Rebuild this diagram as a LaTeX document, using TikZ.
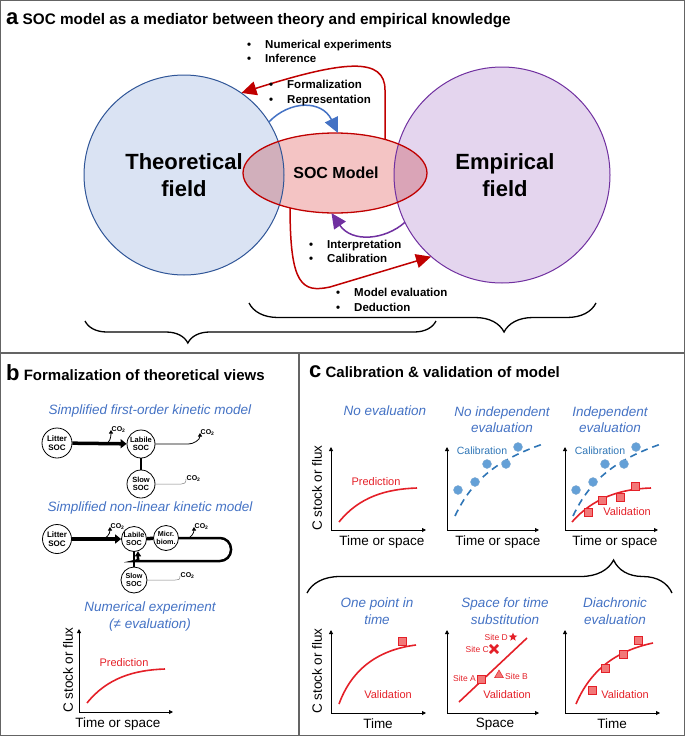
\documentclass[tikz,border=0pt]{standalone}
\usepackage{fontspec}
\setmainfont{Liberation Sans}
\usetikzlibrary{arrows.meta,shapes.geometric,shapes.misc,decorations.pathreplacing}

\definecolor{theofill}{RGB}{218,227,243}
\definecolor{theoline}{RGB}{47,85,151}
\definecolor{empfill}{RGB}{228,213,238}
\definecolor{empline}{RGB}{112,48,160}
\definecolor{socfill}{RGB}{244,196,196}
\definecolor{socline}{RGB}{192,0,0}
\definecolor{theosoc}{RGB}{209,175,187}
\definecolor{empsoc}{RGB}{218,164,183}
\definecolor{formblue}{RGB}{68,114,196}
\definecolor{headblue}{RGB}{68,114,196}
\definecolor{plotred}{RGB}{228,32,40}
\definecolor{sqred}{RGB}{242,120,120}
\definecolor{calblue}{RGB}{100,160,215}
\definecolor{caldark}{RGB}{46,117,182}
\definecolor{framegray}{RGB}{100,100,100}

\tikzset{
  paneltitle/.style={anchor=west, inner sep=0pt, font=\bfseries\fontsize{15}{16}\selectfont},
  fieldtext/.style={align=center, font=\bfseries\fontsize{22}{27}\selectfont},
  socname/.style={font=\bfseries\fontsize{16}{16}\selectfont},
  bullets/.style={anchor=west, align=left, inner sep=0pt, font=\bfseries\fontsize{11.5}{14.5}\selectfont},
  relarrow/.style={line width=1.5pt, -{Triangle[length=15pt,width=14pt]}},
  heading/.style={align=center, text=headblue, font=\itshape\fontsize{13.5}{16.5}\selectfont},
  pool/.style={circle, draw, line width=0.8pt, inner sep=0pt, align=center, fill=white, font=\bfseries\fontsize{7.5}{8.5}\selectfont},
  flux/.style={line width=3.5pt, -{Triangle[length=6pt,width=9pt]}},
  loopline/.style={line width=2.5pt, rounded corners=11pt, -{Triangle[length=5pt,width=6pt]}},
  co2/.style={anchor=west, inner sep=0.5pt, font=\bfseries\fontsize{7}{7}\selectfont},
  co2line/.style={line width=0.8pt, -{Triangle[length=3.5pt,width=4pt]}},
  co2thin/.style={line width=0.5pt, gray},
  axisarrow/.style={line width=0.9pt, {Triangle[length=4pt,width=4pt]}-{Triangle[length=4pt,width=4pt]}},
  axislabel/.style={font=\fontsize{13.5}{13.5}\selectfont},
  predline/.style={plotred, line width=1.6pt},
  caldash/.style={caldark, line width=1.6pt, dash pattern=on 7pt off 5pt},
  caldot/.style={circle, fill=calblue, draw=caldark!60, line width=0.4pt, minimum size=9pt, inner sep=0pt},
  valsq/.style={rectangle, fill=sqred, draw=plotred, line width=0.5pt, minimum size=8pt, inner sep=0pt},
  redtext/.style={text=plotred, font=\fontsize{11}{11}\selectfont},
  bluetext/.style={text=caldark, font=\fontsize{10.5}{10.5}\selectfont},
  sitetext/.style={text=plotred, inner sep=0pt, font=\fontsize{8.5}{8.5}\selectfont},
}

\begin{document}
\begin{tikzpicture}[x=1pt, y=-1pt]
  \newcommand{\blt}{\makebox[18pt][l]{\textbullet}}
  \useasboundingbox (0,0) rectangle (685,736);
  \draw[framegray, line width=1.3pt] (0.7,0.7) rectangle (684.3,735.3);
  \draw[framegray, line width=1.3pt] (0.7,353) -- (684.3,353) (299,353) -- (299,735.3);

  % a: theory, model and observations
  \node[paneltitle, font=\bfseries\fontsize{15.3}{16}\selectfont] (titlea) at (6,20) {{\fontsize{22}{22}\selectfont a} SOC model as a mediator between theory and empirical knowledge};
  \node[circle, minimum size=200pt, fill=theofill] (theo) at (184,175) {};
  \node[circle, minimum size=216pt, fill=empfill] (emp) at (502,175) {};
  \node[ellipse, minimum width=184pt, minimum height=80pt, fill=socfill] (soc) at (335,173) {};
  \begin{scope}
    \clip (soc.center) ellipse [x radius=92pt, y radius=40pt];
    \fill[theosoc] (theo.center) circle [radius=100pt];
    \fill[empsoc] (emp.center) circle [radius=108pt];
  \end{scope}
  \draw[theoline, line width=1pt] (theo.center) circle [radius=100pt];
  \draw[empline, line width=1pt] (emp.center) circle [radius=108pt];
  \draw[socline, line width=1.3pt] (soc.center) ellipse [x radius=92pt, y radius=40pt];
  \node[fieldtext] (theotext) at (184,175.5) {Theoretical\\field};
  \node[fieldtext] (emptext) at (505,175.5) {Empirical\\field};
  \node[socname] (soctext) at (336,173) {SOC Model};

  \draw[relarrow, formblue] (theo.32) .. controls (290,100) and (322,100) .. (soc.86);
  \draw[relarrow, socline] (soc.34) -- (385,90) .. controls (385,57) and (345,60) .. (theo.55);
  \draw[relarrow, empline] (emp.206) .. controls (385,240) and (352,243) .. (soc.265);
  \draw[relarrow, socline] (soc.218) .. controls (290,285) and (302,293) .. (330,287) -- (emp.229);

  \node[bullets] (numexp) at (247,51.5) {\blt Numerical experiments\\\blt Inference};
  \node[bullets] (formal) at (269,93) {\blt Formalization\\\blt Representation};
  \node[bullets] (interp) at (309,251.5) {\blt Interpretation\\\blt Calibration};
  \node[bullets] (modeval) at (336,300) {\blt Model evaluation\\\blt Deduction};

  \draw[line width=1.3pt, decorate, decoration={brace, mirror, amplitude=22pt, aspect=0.293}] (85,321) -- (436,321);
  \draw[line width=1.3pt, decorate, decoration={brace, mirror, amplitude=29pt, aspect=0.735}] (249,303) -- (596,303);

  % b: formalization
  \node[paneltitle] (titleb) at (6,373) {{\fontsize{22}{22}\selectfont b} Formalization of theoretical views};
  \node[heading] (firstorder) at (150,411) {Simplified first-order kinetic model};
  \node[pool, minimum size=30pt, font=\bfseries\fontsize{8}{9}\selectfont] (litter1) at (57,443) {Litter\\SOC};
  \node[pool, minimum size=28pt] (labile1) at (141,444) {Labile\\SOC};
  \node[pool, minimum size=28pt] (slow1) at (141,484) {Slow\\SOC};
  \node[co2] (co2a) at (111,430) {CO\textsubscript{2}};
  \node[co2] (co2b) at (200,433) {CO\textsubscript{2}};
  \node[co2] (co2c) at (186,479) {CO\textsubscript{2}};
  \draw[flux] (litter1) -- coordinate[pos=0.6] (r1) (labile1);
  \draw[co2line] (r1) .. controls +(5,0) and +(0,7) .. (co2a.west);
  \draw[co2line] (labile1.east) -- ++(33,0) .. controls +(5,0) and +(0,7) .. (co2b.west);
  \draw[line width=1.2pt] (labile1) -- (slow1);
  \draw[co2thin] (slow1.east) -- ++(26,0) .. controls +(3,0) and +(0,4) .. (co2c.west);

  \node[heading] (nonlinear) at (150,508) {Simplified non-linear kinetic model};
  \node[pool, minimum size=29pt, font=\bfseries\fontsize{8}{9}\selectfont] (litter2) at (57,539) {Litter\\SOC};
  \node[pool, minimum size=25pt, font=\bfseries\fontsize{7.2}{8}\selectfont] (labile2) at (134,539) {Labile\\SOC};
  \node[pool, minimum size=25pt, font=\bfseries\fontsize{7.2}{8}\selectfont] (micr) at (166,538) {Micr.\\biom.};
  \node[pool, minimum size=26pt, font=\bfseries\fontsize{7.2}{8}\selectfont] (slow2) at (134,580) {Slow\\SOC};
  \node[co2] (co2d) at (110,527) {CO\textsubscript{2}};
  \node[co2] (co2e) at (194,527) {CO\textsubscript{2}};
  \node[co2] (co2f) at (180,576) {CO\textsubscript{2}};
  \draw[flux] (litter2) -- coordinate[pos=0.6] (r2) (labile2);
  \draw[co2line] (r2) .. controls +(5,0) and +(0,7) .. (co2d.west);
  \draw[line width=3.5pt] (labile2) -- (micr);
  \draw[loopline] (micr.east) -- coordinate[pos=0.17] (r3) (231,538) -- (231,561) -- (146,561) .. controls (139,561) and (138,558) .. (labile2.-72);
  \draw[co2line] (r3) .. controls +(3,0) and +(0,6) .. (co2e.west);
  \draw[line width=1.2pt] (labile2) -- (slow2);
  \draw[co2thin] (slow2.east) -- ++(28,0) .. controls +(3,0) and +(0,4) .. (co2f.west);

  \node[heading] (numexpb) at (150,616.5) {Numerical experiment\\(≠ evaluation)};

  % small plots: axes
  \foreach \ox/\oy/\w in {79/712/94, 331/530/95, 447/530/92, 565/530/93, 331/713/95, 447/713/92, 565/713/95}
    \draw[axisarrow] (\ox,\oy-83) -- (\ox,\oy) -- (\ox+\w,\oy);

  \begin{scope}[shift={(79,712)}, yscale=-1]
    \draw[predline] (8,9) .. controls (28,34) and (55,42) .. (86,43);
    \node[redtext] (predb) at (45,49) {Prediction};
  \end{scope}
  \node[axislabel, rotate=90] (ylabb) at (68,670) {C stock or flux};
  \node[axislabel] (xlabb) at (118,724) {Time or space};

  % c: calibration and validation
  \node[paneltitle] (titlec) at (309,372) {{\fontsize{22}{22}\selectfont c} Calibration \& validation of model};
  \node[heading] (noeval) at (385,411) {No evaluation};
  \node[heading] (noindep) at (502,419.5) {No independent\\evaluation};
  \node[heading] (indep) at (610,419.5) {Independent\\evaluation};

  \begin{scope}[shift={(331,530)}, yscale=-1]
    \draw[predline] (8,8) .. controls (28,33) and (55,41) .. (86,42);
    \node[redtext] (predc) at (45,48) {Prediction};
  \end{scope}
  \begin{scope}[shift={(447,530)}, yscale=-1]
    \draw[caldash] (8,14) .. controls (25,50) and (50,70) .. (96,86);
    \foreach \cx/\cy [count=\i] in {11/40, 28/48, 40/66, 59/66, 71/83}
      \node[caldot] (calb\i) at (\cx,\cy) {};
    \node[bluetext] (calnameb) at (35,79) {Calibration};
  \end{scope}
  \begin{scope}[shift={(565,530)}, yscale=-1]
    \draw[caldash] (8,14) .. controls (25,50) and (50,70) .. (96,86);
    \foreach \cx/\cy [count=\i] in {11/40, 28/48, 40/66, 59/66, 71/83}
      \node[caldot] (calc\i) at (\cx,\cy) {};
    \node[bluetext] (calnamec) at (35,79) {Calibration};
    \draw[predline] (7,8) .. controls (28,32) and (55,41) .. (86,42);
    \foreach \sx/\sy [count=\i] in {23/18, 37/30, 55/33, 70/44}
      \node[valsq] (valc\i) at (\sx,\sy) {};
    \node[redtext] (valnamec) at (62,18) {Validation};
  \end{scope}
  \node[axislabel, rotate=90] (ylabc) at (317,488) {C stock or flux};
  \node[axislabel] (xlabc1) at (382,542) {Time or space};
  \node[axislabel] (xlabc2) at (498,542) {Time or space};
  \node[axislabel] (xlabc3) at (615,542) {Time or space};

  \draw[line width=1.3pt, decorate, decoration={brace, amplitude=33pt, aspect=0.84}] (307,593) -- (672,593);

  \node[heading] (onepoint) at (377,611) {One point in\\time};
  \node[heading] (spacetime) at (505,611) {Space for time\\substitution};
  \node[heading] (diachron) at (615,611) {Diachronic\\evaluation};

  \begin{scope}[shift={(331,713)}, yscale=-1]
    \draw[predline] (8,9) .. controls (20,42) and (45,63) .. (85,68);
    \node[valsq] (onept) at (71,72) {};
    \node[redtext] (valnamed) at (57,18) {Validation};
  \end{scope}
  \begin{scope}[shift={(447,713)}, yscale=-1]
    \draw[predline] (12,11) -- (80,75);
    \node[valsq] (sitea) at (34,34) {};
    \node[sitetext, anchor=east] (siteatext) at (29,35) {Site A};
    \node[regular polygon, regular polygon sides=3, fill=sqred, draw=plotred, line width=0.5pt, minimum size=10pt, inner sep=0pt] (siteb) at (52,38) {};
    \node[sitetext, anchor=west] (sitebtext) at (58,37) {Site B};
    \node[cross out, draw=plotred, line width=2.6pt, minimum size=5.5pt, inner sep=0pt] (sitec) at (47,64) {};
    \node[sitetext, anchor=east] (sitectext) at (42,64) {Site C};
    \node[star, star points=5, star point ratio=2.3, fill=plotred, minimum size=9pt, inner sep=0pt] (sited) at (66,76) {};
    \node[sitetext, anchor=east] (sitedtext) at (61,76) {Site D};
    \node[redtext] (valnamee) at (60,18) {Validation};
  \end{scope}
  \begin{scope}[shift={(565,713)}, yscale=-1]
    \draw[predline] (11,9) .. controls (25,42) and (50,62) .. (88,70);
    \foreach \sx/\sy [count=\i] in {27/23, 40/45, 58/59, 73/73}
      \node[valsq] (diach\i) at (\sx,\sy) {};
    \node[redtext] (valnamef) at (60,18) {Validation};
  \end{scope}
  \node[axislabel, rotate=90] (ylabd) at (317,671) {C stock or flux};
  \node[axislabel] (xlabd1) at (378,724) {Time};
  \node[axislabel] (xlabd2) at (495,724) {Space};
  \node[axislabel] (xlabd3) at (612,724) {Time};
\end{tikzpicture}
\end{document}
